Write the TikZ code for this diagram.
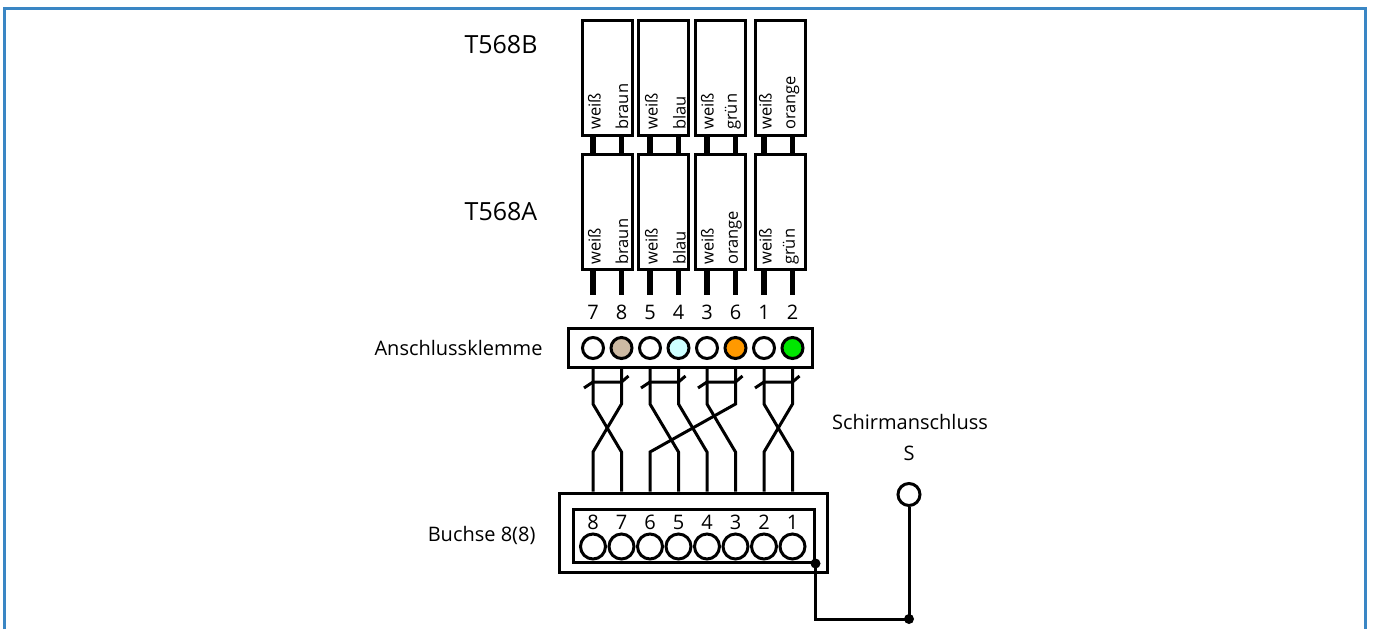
\documentclass[tikz,border=0pt]{standalone}
\usepackage{fontspec}
\setmainfont{Open Sans}
\usepackage{tikz}
\usetikzlibrary{positioning}

\definecolor{frameblue}{RGB}{58,134,196}
\definecolor{wbraun}{RGB}{205,186,163}
\definecolor{wblau}{RGB}{204,255,255}
\definecolor{worange}{RGB}{255,153,0}
\definecolor{wgruen}{RGB}{0,230,0}

\newcommand{\titlefont}{\fontsize{25}{30}\selectfont}
\newcommand{\labfont}{\fontsize{20}{24}\selectfont}
\newcommand{\wirefont}{\fontsize{16.5}{18}\selectfont}

\tikzset{
    pairbox/.style={draw, line width=3pt, minimum width=50pt, minimum height=115pt, inner sep=0pt},
    pin/.style={line width=5.5pt},
    wire/.style={line width=3pt},
    wlab/.style={rotate=90, anchor=south west, inner sep=0pt, font=\wirefont},
    num/.style={inner sep=0pt, outer sep=10pt, text height=14pt, text depth=0pt, font=\labfont},
    klemmpin/.style={circle, draw, line width=3pt, minimum size=21pt, inner sep=0pt},
    buchspin/.style={circle, draw, line width=3pt, minimum size=25pt, inner sep=0pt, fill=white},
}

\begin{document}
\begin{tikzpicture}[x=1pt, y=-1pt]
    \useasboundingbox (0,0) rectangle (1373,629);
    \draw[frameblue, line width=3pt] (4.5,629) -- (4.5,8) -- (1365.5,8) -- (1365.5,629);

    % Klemme
    \node[draw, line width=3pt, minimum width=244pt, minimum height=39pt, inner sep=0pt] (klemme) at (690,347.5) {};
    \node[klemmpin] (k7) at (593,348) {};
    \node[klemmpin, fill=wbraun] (k8) at (621.5,348) {};
    \node[klemmpin] (k5) at (650,348) {};
    \node[klemmpin, fill=wblau] (k4) at (678.5,348) {};
    \node[klemmpin] (k3) at (707,348) {};
    \node[klemmpin, fill=worange] (k6) at (735.5,348) {};
    \node[klemmpin] (k1) at (764,348) {};
    \node[klemmpin, fill=wgruen] (k2) at (792.5,348) {};
    \node[font=\labfont, anchor=east] (klemmlab) at (546,348) {Anschlussklemme};

    \node[num] (n7) at (593,312) {7};
    \node[num] (n8) at (621.5,312) {8};
    \node[num] (n5) at (650,312) {5};
    \node[num] (n4) at (678.5,312) {4};
    \node[num] (n3) at (707,312) {3};
    \node[num] (n6) at (735.5,312) {6};
    \node[num] (n1) at (764,312) {1};
    \node[num] (n2) at (792.5,312) {2};

    % T568B / T568A
    \node[font=\titlefont] (tb) at (501,45) {T568B};
    \node[font=\titlefont] (ta) at (501,212) {T568A};

    \node[pairbox] (b1) at (607,77.5) {};
    \node[pairbox] (b2) at (663.5,77.5) {};
    \node[pairbox] (b3) at (720.5,77.5) {};
    \node[pairbox] (b4) at (780.5,77.5) {};
    \node[pairbox] (a1) at (607,212) {};
    \node[pairbox] (a2) at (663.5,212) {};
    \node[pairbox] (a3) at (720.5,212) {};
    \node[pairbox] (a4) at (780.5,212) {};

    \node[wlab] (bw1) at (601,130) {weiß};
    \node[wlab] (bc1) at (628.5,130) {braun};
    \node[wlab] (bw2) at (658,130) {weiß};
    \node[wlab] (bc2) at (686,130) {blau};
    \node[wlab] (bw3) at (714,130) {weiß};
    \node[wlab] (bc3) at (741,130) {grün};
    \node[wlab] (bw4) at (772,130) {weiß};
    \node[wlab] (bc4) at (799.5,130) {orange};

    \node[wlab] (aw1) at (601,265) {weiß};
    \node[wlab] (ac1) at (628.5,265) {braun};
    \node[wlab] (aw2) at (658,265) {weiß};
    \node[wlab] (ac2) at (686,265) {blau};
    \node[wlab] (aw3) at (714,265) {weiß};
    \node[wlab] (ac3) at (742,265) {orange};
    \node[wlab] (aw4) at (772,265) {weiß};
    \node[wlab] (ac4) at (799,265) {grün};

    \draw[pin] (b1.south -| k7) -- (a1.north -| k7);
    \draw[pin] (b1.south -| k8) -- (a1.north -| k8);
    \draw[pin] (b2.south -| k5) -- (a2.north -| k5);
    \draw[pin] (b2.south -| k4) -- (a2.north -| k4);
    \draw[pin] (b3.south -| k3) -- (a3.north -| k3);
    \draw[pin] (b3.south -| k6) -- (a3.north -| k6);
    \draw[pin] (b4.south -| k1) -- (a4.north -| k1);
    \draw[pin] (b4.south -| k2) -- (a4.north -| k2);

    \draw[pin] (a1.south -| n7) -- (n7.north);
    \draw[pin] (a1.south -| n8) -- (n8.north);
    \draw[pin] (a2.south -| n5) -- (n5.north);
    \draw[pin] (a2.south -| n4) -- (n4.north);
    \draw[pin] (a3.south -| n3) -- (n3.north);
    \draw[pin] (a3.south -| n6) -- (n6.north);
    \draw[pin] (a4.south -| n1) -- (n1.north);
    \draw[pin] (a4.south -| n2) -- (n2.north);

    % Buchse
    \node[draw, line width=3pt, minimum width=268pt, minimum height=79pt, inner sep=0pt] (buchse) at (693,532.5) {};
    \node[draw, line width=3pt, minimum width=241pt, minimum height=53pt, inner sep=0pt] (buchsein) at (693.5,535.5) {};
    \node[buchspin] (s8) at (593,546.5) {};
    \node[buchspin] (s7) at (621.5,546.5) {};
    \node[buchspin] (s6) at (650,546.5) {};
    \node[buchspin] (s5) at (678.5,546.5) {};
    \node[buchspin] (s4) at (707,546.5) {};
    \node[buchspin] (s3) at (735.5,546.5) {};
    \node[buchspin] (s2) at (764,546.5) {};
    \node[buchspin] (s1) at (792.5,546.5) {};
    \node[font=\labfont] (m8) at (593,522) {8};
    \node[font=\labfont] (m7) at (621.5,522) {7};
    \node[font=\labfont] (m6) at (650,522) {6};
    \node[font=\labfont] (m5) at (678.5,522) {5};
    \node[font=\labfont] (m4) at (707,522) {4};
    \node[font=\labfont] (m3) at (735.5,522) {3};
    \node[font=\labfont] (m2) at (764,522) {2};
    \node[font=\labfont] (m1) at (792.5,522) {1};
    \node[font=\labfont, anchor=east] (buchslab) at (539,535) {Buchse 8(8)};

    % Adern
    \coordinate (tt) at (0,404);
    \coordinate (tm) at (0,382);
    \coordinate (tu) at (0,452);
    \draw[wire] (k7 |- klemme.south) -- (k7 |- tt) -- (s7 |- tu) -- (s7 |- buchse.north);
    \draw[wire] (k8 |- klemme.south) -- (k8 |- tt) -- (s8 |- tu) -- (s8 |- buchse.north);
    \draw[wire] (k5 |- klemme.south) -- (k5 |- tt) -- (s5 |- tu) -- (s5 |- buchse.north);
    \draw[wire] (k4 |- klemme.south) -- (k4 |- tt) -- (s4 |- tu) -- (s4 |- buchse.north);
    \draw[wire] (k3 |- klemme.south) -- (k3 |- tt) -- (s3 |- tu) -- (s3 |- buchse.north);
    \draw[wire] (k6 |- klemme.south) -- (k6 |- tt) -- (s6 |- tu) -- (s6 |- buchse.north);
    \draw[wire] (k1 |- klemme.south) -- (k1 |- tt) -- (s1 |- tu) -- (s1 |- buchse.north);
    \draw[wire] (k2 |- klemme.south) -- (k2 |- tt) -- (s2 |- tu) -- (s2 |- buchse.north);

    \draw[wire] (k7 |- tm) ++(-9,6) -- ++(9,-6) -- (k8 |- tm) -- ++(7,-6);
    \draw[wire] (k5 |- tm) ++(-9,6) -- ++(9,-6) -- (k4 |- tm) -- ++(7,-6);
    \draw[wire] (k3 |- tm) ++(-9,6) -- ++(9,-6) -- (k6 |- tm) -- ++(7,-6);
    \draw[wire] (k1 |- tm) ++(-9,6) -- ++(9,-6) -- (k2 |- tm) -- ++(7,-6);

    % Schirm
    \node[font=\labfont] (schirmlab) at (910,422) {Schirmanschluss};
    \node[font=\labfont] (slab) at (909,453) {S};
    \node[circle, draw, line width=3pt, minimum size=22pt, inner sep=0pt] (sc) at (909,494.5) {};
    \coordinate (gnd) at (0,619);
    \draw[wire] (buchsein.south east) -- (buchsein.south east |- gnd) -- (sc |- gnd) -- (sc.south);
    \fill (buchsein.south east) circle (5);
    \fill (sc |- gnd) circle (5);
\end{tikzpicture}
\end{document}
